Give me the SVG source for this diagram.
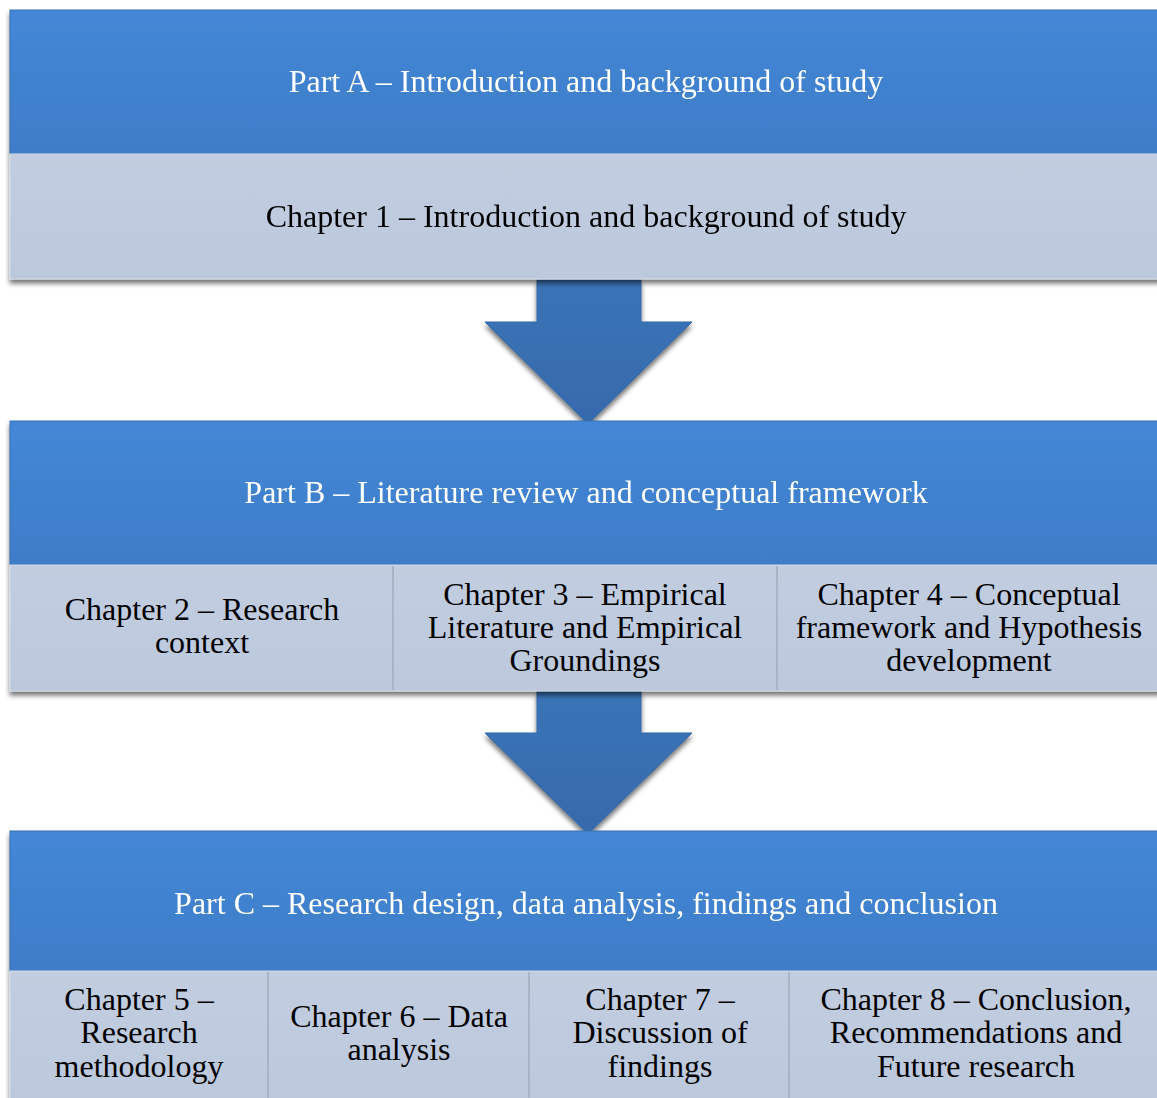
<svg xmlns="http://www.w3.org/2000/svg" width="1157" height="1098" viewBox="0 0 1157 1098">
  <defs>
    <linearGradient id="partFill" x1="0" y1="0" x2="0" y2="1">
      <stop offset="0" stop-color="#4487D6"/>
      <stop offset="1" stop-color="#3E7DC8"/>
    </linearGradient>
    <linearGradient id="chapFill" x1="0" y1="0" x2="0" y2="1">
      <stop offset="0" stop-color="#C2CDE0"/>
      <stop offset="1" stop-color="#BCC8DC"/>
    </linearGradient>
    <linearGradient id="arrowFill" x1="0" y1="0" x2="0" y2="1">
      <stop offset="0" stop-color="#3A74B8"/>
      <stop offset="1" stop-color="#366AAC"/>
    </linearGradient>
    <filter id="shadow" x="-5%" y="-10%" width="110%" height="130%">
      <feGaussianBlur in="SourceAlpha" stdDeviation="2.5"/>
      <feOffset dx="0" dy="4" result="b"/>
      <feComponentTransfer><feFuncA type="linear" slope="0.55"/></feComponentTransfer>
      <feMerge><feMergeNode/><feMergeNode in="SourceGraphic"/></feMerge>
    </filter>
  </defs>
  <style>
    .part { fill: url(#partFill); stroke: #3A70B0; stroke-width: 1; }
    .chap { fill: url(#chapFill); stroke: #D4DCEA; stroke-width: 1; }
    .div { stroke: #A9B4C6; stroke-width: 2; }
    .arrow { fill: url(#arrowFill); stroke: #3468A8; stroke-width: 1; }
    .pt { font-family: "Liberation Serif", "Times New Roman", serif; font-size: 32px; fill: #FFFFFF; text-anchor: middle; }
    .ct { font-family: "Liberation Serif", "Times New Roman", serif; font-size: 32px; fill: #000000; text-anchor: middle; }
  </style>

  <rect width="1157" height="1098" fill="#FFFFFF"/>

  <!-- Connectors: block arrows between parts -->
  <g id="connectors">
    <path class="arrow" filter="url(#shadow)" d="M537,280 L641,280 L641,322 L692,322 L588,424 L485,322 L537,322 Z"/>
    <path class="arrow" filter="url(#shadow)" d="M537,691 L641,691 L641,733 L692,733 L588,834 L485,733 L537,733 Z"/>
  </g>

  <!-- Part A -->
  <g id="partA" filter="url(#shadow)">
    <rect class="part" x="10" y="10" width="1152" height="144"/>
    <rect class="chap" x="10" y="154" width="1152" height="125"/>
    <text class="pt" x="586" y="92">Part A – Introduction and background of study</text>
    <text class="ct" x="586" y="227">Chapter 1 – Introduction and background of study</text>
  </g>

  <!-- Part B -->
  <g id="partB" filter="url(#shadow)">
    <rect class="part" x="10" y="421" width="1152" height="144"/>
    <rect class="chap" x="10" y="565" width="1152" height="126"/>
    <line class="div" x1="393" y1="566" x2="393" y2="690"/>
    <line class="div" x1="777" y1="566" x2="777" y2="690"/>
    <text class="pt" x="586" y="503">Part B – Literature review and conceptual framework</text>
  </g>
  <g id="ch2">
    <text class="ct" x="202" y="620">Chapter 2 – Research</text>
    <text class="ct" x="202" y="653">context</text>
  </g>
  <g id="ch3">
    <text class="ct" x="585" y="605">Chapter 3 – Empirical</text>
    <text class="ct" x="585" y="638">Literature and Empirical</text>
    <text class="ct" x="585" y="671">Groundings</text>
  </g>
  <g id="ch4">
    <text class="ct" x="969" y="605">Chapter 4 – Conceptual</text>
    <text class="ct" x="969" y="638">framework and Hypothesis</text>
    <text class="ct" x="969" y="671">development</text>
  </g>

  <!-- Part C -->
  <g id="partC" filter="url(#shadow)">
    <rect class="part" x="10" y="831" width="1152" height="140"/>
    <rect class="chap" x="10" y="971" width="1152" height="130"/>
    <line class="div" x1="268" y1="972" x2="268" y2="1098"/>
    <line class="div" x1="529" y1="972" x2="529" y2="1098"/>
    <line class="div" x1="789" y1="972" x2="789" y2="1098"/>
    <text class="pt" x="586" y="914">Part C – Research design, data analysis, findings and conclusion</text>
  </g>
  <g id="ch5">
    <text class="ct" x="139" y="1010">Chapter 5 –</text>
    <text class="ct" x="139" y="1043">Research</text>
    <text class="ct" x="139" y="1077">methodology</text>
  </g>
  <g id="ch6">
    <text class="ct" x="399" y="1027">Chapter 6 – Data</text>
    <text class="ct" x="399" y="1060">analysis</text>
  </g>
  <g id="ch7">
    <text class="ct" x="660" y="1010">Chapter 7 –</text>
    <text class="ct" x="660" y="1043">Discussion of</text>
    <text class="ct" x="660" y="1077">findings</text>
  </g>
  <g id="ch8">
    <text class="ct" x="976" y="1010">Chapter 8 – Conclusion,</text>
    <text class="ct" x="976" y="1043">Recommendations and</text>
    <text class="ct" x="976" y="1077">Future research</text>
  </g>
</svg>
